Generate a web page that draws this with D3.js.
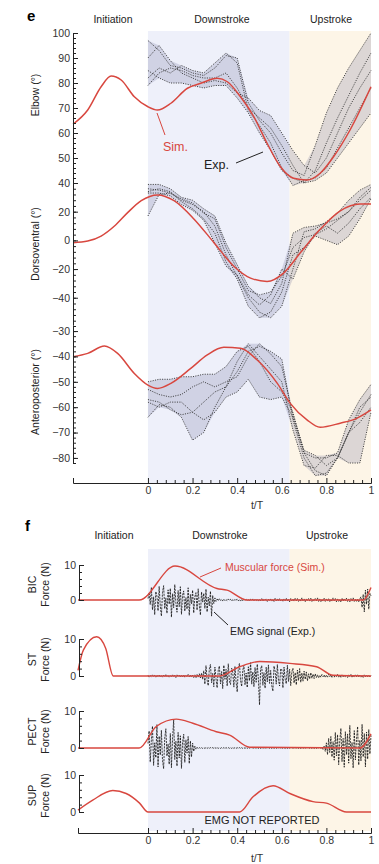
<!DOCTYPE html>
<html>
<head>
<meta charset="utf-8">
<script src="https://cdn.jsdelivr.net/npm/d3@7"></script>
<style>
  body { margin: 0; background: #fff; }
  svg text { font-family: "Liberation Sans", Arial, sans-serif; }
</style>
</head>
<body>
<div id="chart"></div>
<script>
// ---------- data ----------
const phaseNames = ["Initiation", "Downstroke", "Upstroke"];
const phaseBounds = [0, 0.635, 1];   // downstroke start, upstroke start, end (t/T)

const xTicks = [0, 0.2, 0.4, 0.6, 0.8, 1];

// panel e: simulated joint angles (t/T, degrees)
const elbowSimT = [-0.336, -0.27, -0.21, -0.165, -0.12, -0.061, 0, 0.043, 0.103, 0.177, 0.237, 0.311, 0.356, 0.415, 0.475, 0.534, 0.594, 0.653, 0.713, 0.772, 0.832, 0.906, 1.0];
const elbowSimV = [63.5, 69.2, 78.5, 82.8, 81.2, 74.5, 70.5, 69.2, 71.9, 77.9, 79.9, 81.9, 80.5, 74.5, 66.5, 55.9, 46.5, 41.9, 41.2, 43.9, 50.5, 61.2, 78.5];

const dorsoSimT = [-0.336, -0.27, -0.21, -0.15, -0.09, -0.03, 0.043, 0.117, 0.207, 0.296, 0.385, 0.46, 0.534, 0.608, 0.683, 0.772, 0.862, 0.95, 1.0];
const dorsoSimV = [-1.6, -0.5, 3, 10, 19.5, 27.7, 31.7, 27.7, 14.8, -1.6, -18, -26.3, -28.6, -22.8, -8.7, 7.7, 20.6, 25.4, 25.4];

const anteroSimT = [-0.336, -0.27, -0.195, -0.136, -0.061, 0, 0.043, 0.103, 0.192, 0.266, 0.34, 0.415, 0.49, 0.58, 0.638, 0.713, 0.772, 0.862, 0.936, 1.0];
const anteroSimV = [-40.1, -38.8, -35.9, -38.8, -46.7, -51.3, -52.6, -50.6, -44.7, -39.4, -36.4, -36.8, -41.4, -50.6, -58.5, -65, -67.9, -66.3, -64.4, -61.1];

// panel e: experimental trials, sampled at expT
const expT = [0, 0.05, 0.1, 0.15, 0.2, 0.25, 0.3, 0.35, 0.4, 0.45, 0.5, 0.55, 0.6, 0.65, 0.7, 0.75, 0.8, 0.85, 0.9, 0.95, 1];

const elbowExp = [
  [97, 93, 87, 86, 84, 83, 86, 91, 90, 72, 65, 60, 52, 45, 43, 55, 68, 78, 86, 93, 100],
  [79, 84, 86, 85, 83, 82, 82, 84, 78, 70, 66, 62, 55, 47, 40, 45, 56, 66, 75, 84, 92],
  [90, 95, 89, 84, 82, 80, 81, 80, 76, 74, 69, 67, 60, 53, 47, 44, 50, 60, 70, 78, 85],
  [82, 86, 84, 87, 85, 84, 88, 92, 88, 69, 63, 56, 46, 39, 41, 42, 46, 54, 62, 70, 78],
  [85, 82, 80, 80, 79, 78, 79, 79, 74, 68, 60, 53, 45, 42, 40, 41, 44, 50, 56, 62, 68]
];
const dorsoExp = [
  [39, 39, 36, 30, 28, 22, 17, -2, -17, -32, -40, -44, -30, 5, 9, 10, 12, 15, 20, 28, 35],
  [17, 32, 33, 28, 25, 20, 10, -10, -25, -40, -50, -54, -46, -20, 6, 8, 13, 19, 28, 35, 39],
  [34, 36, 34, 27, 22, 15, 5, -15, -27, -46, -54, -50, -36, -10, -5, 3, 0, -3, 3, 15, 29],
  [33, 33, 31, 25, 21, 14, -2, -18, -24, -38, -45, -38, -20, -27, -8, 5, 10, 5, 12, 22, 30],
  [36, 35, 33, 29, 26, 19, 15, -5, -20, -35, -38, -36, -25, -5, 2, 4, 8, 14, 20, 30, 37]
];
const anteroExp = [
  [-50, -49, -49, -48, -48, -47, -47, -44, -38, -36, -42, -50, -54, -62, -78, -80, -80, -78, -65, -57, -51],
  [-64, -59, -60, -64, -73, -70, -60, -52, -46, -38, -36, -38, -41, -65, -80, -87, -86, -80, -70, -62, -55],
  [-57, -58, -61, -63, -62, -58, -54, -52, -42, -35, -40, -45, -50, -69, -83, -84, -79, -79, -82, -82, -62],
  [-58, -60, -58, -58, -62, -65, -62, -56, -54, -49, -56, -57, -56, -64, -78, -85, -87, -80, -70, -66, -60],
  [-53, -55, -56, -55, -52, -50, -52, -50, -48, -40, -35, -39, -44, -63, -77, -79, -83, -80, -70, -60, -56]
];

const elbowTicks = [40, 50, 60, 70, 80, 90, 100];
const dorsoTicks = [20, 0, -20, -40];
const anteroTicks = [-30, -40, -50, -60, -70, -80];

// panel f: simulated muscular force (N)
const bicSimT = [-0.314, -0.04, 0.121, 0.309, 0.354, 0.444, 0.965, 1.0];
const bicSimV = [0, 0, 9.7, 3.3, 2.8, 0, 0, 3.6];
const stSimT = [-0.314, -0.29, -0.23, -0.19, -0.156, 0.32, 0.411, 0.501, 0.636, 0.756, 0.83, 1.0];
const stSimV = [1.5, 7, 10.6, 7.5, 0, 0, 2.5, 3.9, 3.4, 2.5, 0.2, 0];
const pectSimT = [-0.314, -0.04, 0.037, 0.127, 0.201, 0.306, 0.366, 0.456, 0.951, 1.0];
const pectSimV = [0, 0, 5.8, 7.8, 6.7, 4.4, 3.5, 0.2, 0, 3.8];
const supSimT = [-0.314, -0.248, -0.158, -0.098, -0.038, 0, 0.411, 0.471, 0.561, 0.636, 0.74, 0.8, 0.89, 1.0];
const supSimV = [0.5, 3.2, 5.8, 5, 2.4, 0, 0, 4.1, 7.1, 5, 2.8, 2.4, 0, 0];

// panel f: EMG signal, one sample every emgStep from t/T = 0
const emgStep = 0.005;
const bicEmg = [
  0.4, 2.1, -1.3, 3.6, -2.8, 0.9, -4.2, 2.4, 1.1, -3.1,
  3.9, -1.7, -4.6, 2.2, 4.1, -2.5, 0.6, -3.8, 2.9, -1.2,
  3.3, -4.9, 1.8, -2.2, 4.4, -0.8, -3.5, 2.7, -1.9, 3.8,
  -4.1, 1.4, 2.6, -3.2, 0.7, -2.6, 3.5, -4.4, 1.6, -1.1,
  2.8, -3.7, 0.9, 2.1, -2.9, 3.2, -1.5, -4.3, 2.3, -0.6,
  1.9, -2.4, 3.1, -3.4, 0.8, -1.7, 2.5, -4.6, 1.3, -1.0,
  0.6,
  -0.4, 0.3, -0.2, 0.4, -0.1, 0.2, -0.3, 0.2, -0.2, 0.1,
  -0.2, 0.3, -0.1, 0.2, -0.3, 0.1, -0.2, 0.2, -0.1, 0.3,
  -0.2, 0.1, -0.3, 0.2, -0.2, 0.3, -0.1, 0.2, -0.2, 0.1,
  -0.3, 0.2, -0.1, 0.3, -0.2, 0.2, -0.1, 0.1, -0.3, 0.2,
  -0.2, 0.4, -0.3, 0.2, -0.1, 0.3, -0.4, 0.2, -0.2, 0.3,
  -0.3, 0.2, -0.4, 0.5, -0.2, 0.3, -0.3, 0.4, -0.2, 0.2,
  -0.4, 0.3, -0.2, 0.5, -0.3, 0.2, -0.5, 0.4, -0.2, 0.3,
  -0.3, 0.5, -0.2, 0.4, -0.4, 0.2, -0.3, 0.6, -0.2, 0.3,
  -0.5, 0.3, -0.2, 0.4, -0.3, 0.5, -0.4, 0.2, -0.3, 0.4,
  -0.2, 0.6, -0.4, 0.3, -0.5, 0.2, -0.3, 0.5, -0.4, 0.3,
  -0.3, 0.4, -0.5, 0.2, -0.3, 0.6, -0.2, 0.4, -0.5, 0.3,
  -0.4, 0.2, -0.6, 0.5, -0.3, 0.4, -0.2, 0.5, -0.4, 0.3,
  -0.5, 0.4, -0.3, 0.6, -0.4, 0.2, -0.5, 0.3, -0.6, 0.4,
  0.9, -2.1, 1.6, -3.4, 2.8, -1.2, 3.1, -2.6, 1.9, 1.2
];
const stEmg = [
  0.2, -0.3, 0.1, -0.2, 0.3, -0.1, 0.2, -0.3, 0.2, -0.1,
  0.3, -0.2, 0.1, -0.3, 0.2, -0.2, 0.4, -0.1, 0.2, -0.3,
  0.1, -0.2, 0.3, -0.2, 0.2, -0.4, 0.3, -0.1, 0.2, -0.3,
  0.2, -0.2, 0.3, -0.3, 0.1, -0.2, 0.4, -0.2, 0.3, -0.3,
  0.2, -0.4, 0.3, -0.5, 0.4, -0.3, 0.6, -0.5, 0.8, -0.9,
  1.4, -2.2, 2.8, -1.1, -2.6, 1.9, 3.1, -1.8, 0.7, -2.9,
  2.4, -0.8, -3.2, 1.6, 2.7, -2.1, 1.2, -3.4, 2.9, -0.9,
  1.8, -2.7, 3.3, -1.4, -2.3, 2.1, 1.0, -3.0, 2.6, -1.6,
  -4.3, 2.2, 3.4, -1.2, -2.8, 1.5, 2.9, -2.4, 0.8, -3.1,
  2.5, -1.3, 3.6, -2.2, 1.1, -2.9, 2.3, -1.7, 3.2, -0.9,
  -7.8, 1.9, 2.8, -2.5, 0.9, -3.3, 2.4, -1.6, 3.0, -2.0,
  1.5, -2.6, -4.1, 2.7, 1.3, -2.2, 3.1, -1.1, -2.7, 2.0,
  1.7, -3.2, 2.4, -0.8, -2.1, 2.9, -1.5, 1.8, -2.6, 1.2,
  2.1, -1.9, 0.9, -2.4, 1.6, -1.2, 2.0, -1.7, 0.8, -1.4,
  1.3, -0.9, 1.1, -1.3, 0.6, -0.8, 0.9, -0.6, 0.5, -0.7,
  0.6,
  -0.4, 0.3, -0.5, 0.2, -0.3, 0.4, -0.2, 0.3, -0.4, 0.2,
  -0.3, 0.5, -0.2, 0.3, -0.4, 0.2, -0.3, 0.3, -0.2, 0.4,
  -0.3, 0.2, -0.4, 0.3, -0.2, 0.3, -0.3, 0.2, -0.4, 0.3,
  -0.2, 0.4, -0.3, 0.2, -0.3, 0.3, -0.2, 0.4, -0.3, 0.2,
  -0.3, 0.2, -0.4, 0.3, -0.2, 0.3, -0.2, 0.2, -0.3, 0.1
];
const pectEmg = [
  1.2, 4.6, -3.8, 2.1, 5.9, -4.7, 1.4, -2.6, 6.3, -5.1,
  3.2, -1.9, 4.8, -3.4, -5.6, 2.7, 5.2, -2.2, 1.1, -4.4,
  3.9, -5.3, 2.4, 7.6, -3.1, 1.8, -4.9, 4.2, -2.7, 3.3,
  -5.5, 1.6, 3.7, -3.9, 2.2, -1.4, 3.1, -4.2, 1.9, -2.4,
  1.3,
  -0.9, 0.5, -0.3, 0.2, -0.2, 0.1, -0.1, 0.1, -0.1, 0.1,
  -0.1, 0.1, -0.1, 0.1, -0.1, 0.1, -0.1, 0.1, -0.1, 0.1,
  -0.1, 0.1, -0.1, 0.1, -0.1, 0.1, -0.1, 0.1, -0.1, 0.1,
  -0.1, 0.1, -0.1, 0.1, -0.1, 0.1, -0.1, 0.1, -0.1, 0.1,
  -0.1, 0.1, -0.1, 0.1, -0.1, 0.1, -0.1, 0.1, -0.1, 0.1,
  -0.1, 0.1, -0.1, 0.1, -0.1, 0.1, -0.1, 0.1, -0.1, 0.1,
  -0.1, 0.1, -0.1, 0.1, -0.1, 0.1, -0.1, 0.1, -0.1, 0.1,
  -0.1, 0.1, -0.1, 0.1, -0.1, 0.1, -0.1, 0.1, -0.1, 0.1,
  -0.1, 0.1, -0.1, 0.1, -0.1, 0.1, -0.1, 0.1, -0.1, 0.1,
  -0.1, 0.1, -0.1, 0.1, -0.1, 0.1, -0.1, 0.1, -0.1, 0.1,
  -0.1, 0.1, -0.1, 0.1, -0.1, 0.1, -0.1, 0.1, -0.1, 0.1,
  -0.1, 0.1, -0.1, 0.2, -0.2, 0.3, -0.4,
  0.6, -0.9, 1.4, -1.8, 2.6, -1.2, 3.1, -2.4, 1.7, -3.3,
  4.2, -2.1, 3.6, -4.5, 1.9, 5.3, -3.7, 2.6, -5.2, 4.4,
  -1.8, 3.8, -4.1, 6.1, -2.9, 1.5, -5.4, 4.7, -3.2, 2.3,
  5.8, -4.6, 2.1, -3.5, 6.4, -2.4, 3.9, -5.1, 4.3, -3.0,
  5.0, -1.6, 3.4
];

// ---------- drawing ----------
const red = "#d8473f";
const lavender = "#eef0fa";
const beige = "#fdf5e7";
const ink = "#222";

const svg = d3.select("#chart").append("svg")
  .attr("width", 379)
  .attr("height", 864)
  .style("background", "#fff");

const xE = d3.scaleLinear().domain([-0.336, 1]).range([73, 371]);
const xF = d3.scaleLinear().domain([-0.314, 1]).range([78, 371]);

function shadePhases(x, top, bottom) {
  svg.append("rect")
    .attr("x", x(phaseBounds[0])).attr("y", top)
    .attr("width", x(phaseBounds[1]) - x(phaseBounds[0])).attr("height", bottom - top)
    .attr("fill", lavender);
  svg.append("rect")
    .attr("x", x(phaseBounds[1])).attr("y", top)
    .attr("width", x(phaseBounds[2]) - x(phaseBounds[1])).attr("height", bottom - top)
    .attr("fill", beige);
}

function phaseHeaders(baseline, centers) {
  phaseNames.forEach((name, i) => {
    svg.append("text")
      .attr("x", centers[i]).attr("y", baseline)
      .attr("text-anchor", "middle")
      .attr("font-size", 10.5).attr("fill", ink)
      .text(name);
  });
}

function xAxis(x, y, labelY) {
  const minor = d3.range(0, 1.001, 0.04).filter(t => Math.abs(t / 0.2 - Math.round(t / 0.2)) > 1e-6);
  svg.append("g")
    .attr("transform", `translate(0,${y})`)
    .call(d3.axisBottom(x).tickValues(minor).tickSize(-3).tickFormat("").tickSizeOuter(0));
  const g = svg.append("g")
    .attr("transform", `translate(0,${y})`)
    .call(d3.axisBottom(x).tickValues([x.domain()[0], ...xTicks]).tickSize(-5).tickPadding(4)
      .tickFormat(d => d < 0 ? "" : d3.format("~g")(d)).tickSizeOuter(0));
  g.selectAll("text").attr("font-size", 10.5).attr("fill", "#333");
  svg.selectAll(".domain, .tick line").attr("stroke", ink);
  svg.append("text")
    .attr("x", 257).attr("y", labelY)
    .attr("text-anchor", "middle")
    .attr("font-size", 10.5).attr("fill", "#333")
    .text("t/T");
}

function yAxis(x0, scale, majors, minors) {
  svg.append("g")
    .attr("transform", `translate(${x0},0)`)
    .call(d3.axisLeft(scale).tickValues(minors).tickSize(-3).tickFormat("").tickSizeOuter(0));
  const g = svg.append("g")
    .attr("transform", `translate(${x0},0)`)
    .call(d3.axisLeft(scale).tickValues(majors).tickSize(-5).tickPadding(3).tickSizeOuter(0)
      .tickFormat(d3.format("~g")));
  g.selectAll("text").attr("font-size", 10.5).attr("fill", "#333");
}

function rotLabel(x, y, text) {
  svg.append("text")
    .attr("transform", `translate(${x},${y}) rotate(-90)`)
    .attr("text-anchor", "middle")
    .attr("font-size", 10.5).attr("fill", ink)
    .text(text);
}

// ===== panel e =====
svg.append("text").attr("x", 27).attr("y", 21)
  .attr("font-size", 15).attr("font-weight", "bold").text("e");
phaseHeaders(23, [113, 222, 331]);
shadePhases(xE, 31, 483);

const anglePanels = [
  { label: "Elbow (°)", labelY: 95, simT: elbowSimT, simV: elbowSimV, exp: elbowExp,
    y: d3.scaleLinear().domain([40, 100]).range([183, 33]),
    majors: elbowTicks, minors: d3.range(40, 100.1, 2) },
  { label: "Dorsoventral (°)", labelY: 244, simT: dorsoSimT, simV: dorsoSimV, exp: dorsoExp,
    y: d3.scaleLinear().domain([40, -59]).range([183, 325]),
    majors: dorsoTicks, minors: d3.range(-56, 40, 4) },
  { label: "Anteroposterior (°)", labelY: 392, simT: anteroSimT, simV: anteroSimV, exp: anteroExp,
    y: d3.scaleLinear().domain([-28, -82]).range([326, 463]),
    majors: anteroTicks, minors: d3.range(-82, -27.9, 2) }
];

anglePanels.forEach(p => {
  const upper = expT.map((t, i) => d3.max(p.exp, tr => tr[i]));
  const lower = expT.map((t, i) => d3.min(p.exp, tr => tr[i]));

  // spread of experimental trials
  svg.append("path")
    .attr("d", d3.area()
      .x((d, i) => xE(expT[i]))
      .y0((d, i) => p.y(lower[i]))
      .y1((d, i) => p.y(upper[i]))(expT))
    .attr("fill", "rgba(105,105,150,0.22)");

  p.exp.forEach(tr => {
    svg.append("path")
      .attr("d", d3.line().x((d, i) => xE(expT[i])).y(d => p.y(d))(tr))
      .attr("fill", "none")
      .attr("stroke", "#333")
      .attr("stroke-width", 0.9)
      .attr("stroke-dasharray", "1.1,1.3");
  });

  svg.append("path")
    .attr("d", d3.line().curve(d3.curveMonotoneX)
      .x((d, i) => xE(p.simT[i])).y(d => p.y(d))(p.simV))
    .attr("fill", "none")
    .attr("stroke", red)
    .attr("stroke-width", 1.5);

  yAxis(73, p.y, p.majors, p.minors);
  rotLabel(39, p.labelY, p.label);
});

xAxis(xE, 483, 509);

// annotations
svg.append("line").attr("x1", 157).attr("y1", 113).attr("x2", 165).attr("y2", 135)
  .attr("stroke", red).attr("stroke-width", 1);
svg.append("text").attr("x", 163).attr("y", 151)
  .attr("font-size", 12.5).attr("fill", red).text("Sim.");
svg.append("line").attr("x1", 236).attr("y1", 163).attr("x2", 263).attr("y2", 152)
  .attr("stroke", ink).attr("stroke-width", 1);
svg.append("text").attr("x", 204).attr("y", 169)
  .attr("font-size", 12.5).attr("fill", ink).text("Exp.");

// ===== panel f =====
svg.append("text").attr("x", 25).attr("y", 531)
  .attr("font-size", 15).attr("font-weight", "bold").text("f");
phaseHeaders(539, [114, 220, 327]);
shadePhases(xF, 549, 831);

const musclePanels = [
  { name: "BIC", simT: bicSimT, simV: bicSimV, emg: bicEmg, y: d3.scaleLinear().domain([0, 10]).range([600, 565]) },
  { name: "ST", simT: stSimT, simV: stSimV, emg: stEmg, y: d3.scaleLinear().domain([0, 10]).range([676, 639]) },
  { name: "PECT", simT: pectSimT, simV: pectSimV, emg: pectEmg, y: d3.scaleLinear().domain([0, 10]).range([748, 711]) },
  { name: "SUP", simT: supSimT, simV: supSimV, emg: null, y: d3.scaleLinear().domain([0, 10]).range([812, 775]) }
];

musclePanels.forEach(p => {
  if (p.emg) {
    svg.append("path")
      .attr("d", d3.line().x((d, i) => xF(i * emgStep)).y(d => p.y(d))(p.emg))
      .attr("fill", "none")
      .attr("stroke", "#111")
      .attr("stroke-width", 0.8)
      .attr("stroke-dasharray", "2.2,1");
  }

  svg.append("path")
    .attr("d", d3.line().curve(d3.curveMonotoneX)
      .x((d, i) => xF(p.simT[i])).y(d => p.y(d))(p.simV))
    .attr("fill", "none")
    .attr("stroke", red)
    .attr("stroke-width", 1.4);

  yAxis(79, p.y, [0, 10], [2, 4, 6, 8]);

  const mid = (p.y(0) + p.y(10)) / 2 + 2;
  rotLabel(36, mid, p.name);
  rotLabel(49, mid, "Force (N)");
});

xAxis(xF, 833, 862);

svg.append("line").attr("x1", 200).attr("y1", 577).attr("x2", 221).attr("y2", 568)
  .attr("stroke", red).attr("stroke-width", 1);
svg.append("text").attr("x", 225).attr("y", 571)
  .attr("font-size", 10.5).attr("fill", red).text("Muscular force (Sim.)");
svg.append("line").attr("x1", 214).attr("y1", 612).attr("x2", 228).attr("y2", 625)
  .attr("stroke", ink).attr("stroke-width", 1);
svg.append("text").attr("x", 230).attr("y", 635)
  .attr("font-size", 10.5).attr("fill", ink).text("EMG signal (Exp.)");
svg.append("text").attr("x", 262).attr("y", 824)
  .attr("text-anchor", "middle")
  .attr("font-size", 11).attr("fill", ink).text("EMG NOT REPORTED");
</script>
</body>
</html>
